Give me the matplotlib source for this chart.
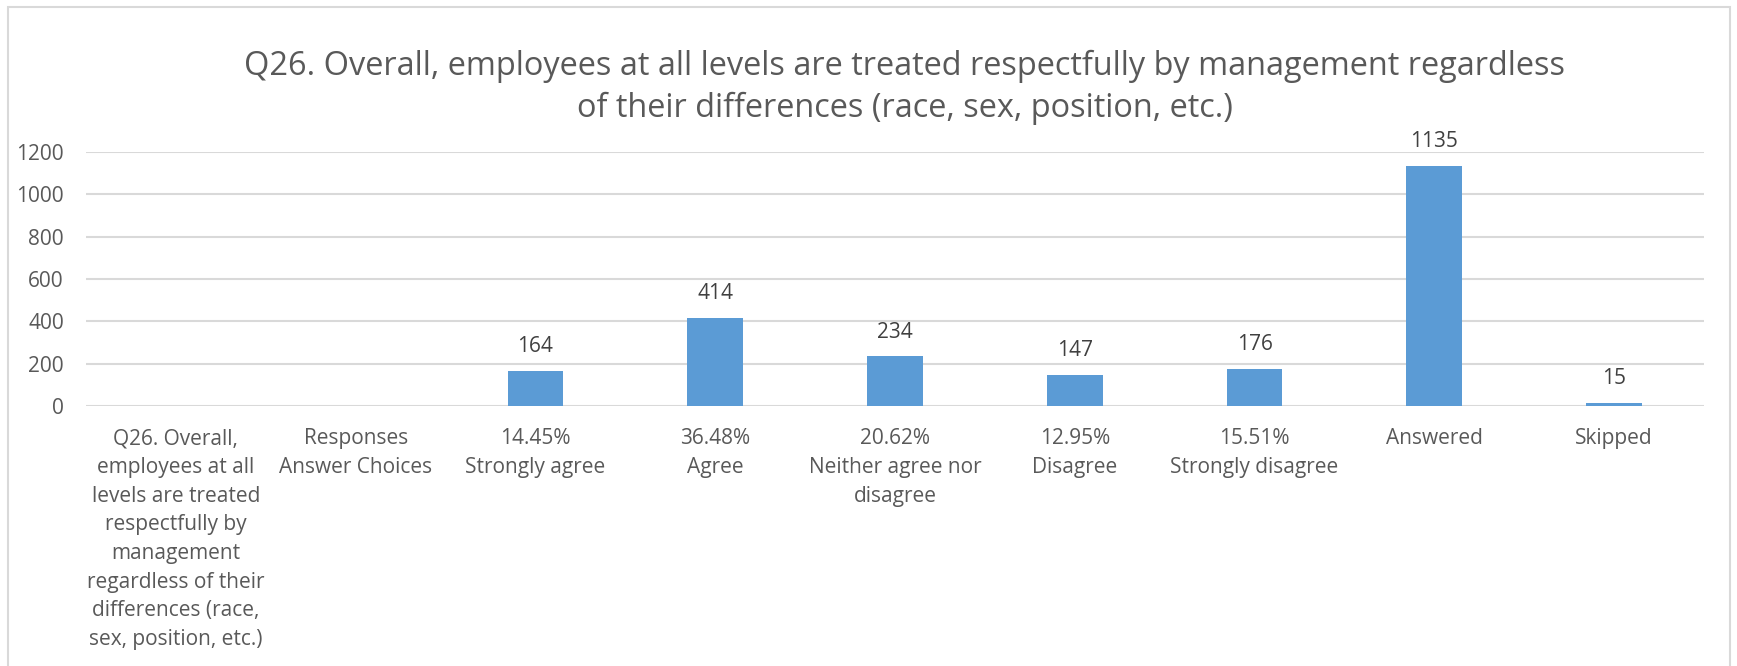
import matplotlib.pyplot as plt
import matplotlib.patches as mpatches
import numpy as np

plt.rcParams['font.family'] = ['Open Sans', 'DejaVu Sans']

categories = ['Q26. Overall,\nemployees at all\nlevels are treated\nrespectfully by\nmanagement\nregardless of their\ndifferences (race,\nsex, position, etc.)',
              'Responses\nAnswer Choices',
              '14.45%\nStrongly agree',
              '36.48%\nAgree',
              '20.62%\nNeither agree nor\ndisagree',
              '12.95%\nDisagree',
              '15.51%\nStrongly disagree',
              'Answered',
              'Skipped']
counts = [None, None, 164, 414, 234, 147, 176, 1135, 15]
yticks = [0, 200, 400, 600, 800, 1000, 1200]

title = ('Q26. Overall, employees at all levels are treated respectfully by management regardless\n'
         'of their differences (race, sex, position, etc.)')

text_col = '#595959'
bar_col = '#5b9bd5'
grid_col = '#d9d9d9'

fig = plt.figure(figsize=(17.37, 6.66), dpi=100)
ax = fig.add_axes([86 / 1737, 1 - 406 / 666, (1704 - 86) / 1737, (406 - 152) / 666])

# chart frame
fig.patches.append(mpatches.Rectangle((8 / 1737, -0.05), (1730 - 8) / 1737, 1 - 7 / 666 + 0.05,
                                      transform=fig.transFigure, fill=False,
                                      edgecolor='#d9d9d9', linewidth=1.5))

index = np.arange(len(categories))
xs = [i for i, v in zip(index, counts) if v is not None]
vals = [v for v in counts if v is not None]
bars = ax.bar(xs, vals, 0.31, color=bar_col, zorder=3)

for b, v in zip(bars, vals):
    ax.annotate(str(v), (b.get_x() + b.get_width() / 2, v), xytext=(0, 10),
                textcoords='offset points', ha='center', va='bottom',
                fontsize=15, color='#404040')

ax.set_xlim(-0.5, len(categories) - 0.5)
ax.set_ylim(0, 1200)
ax.set_yticks(yticks)
ax.set_xticks(index)
ax.set_xticklabels(categories, fontsize=15, color=text_col, linespacing=1.48)
ax.tick_params(axis='y', labelsize=15, labelcolor=text_col, length=0, pad=16)
ax.tick_params(axis='x', length=0, pad=16)
ax.grid(axis='y', color=grid_col, linewidth=1.5, zorder=0)
for s in ax.spines.values():
    s.set_visible(False)

fig.text(905 / 1737, 1 - 87 / 666, title, ha='center', va='center',
         fontsize=23.4, color=text_col, linespacing=1.35)

fig.savefig('out.png', dpi=100)
